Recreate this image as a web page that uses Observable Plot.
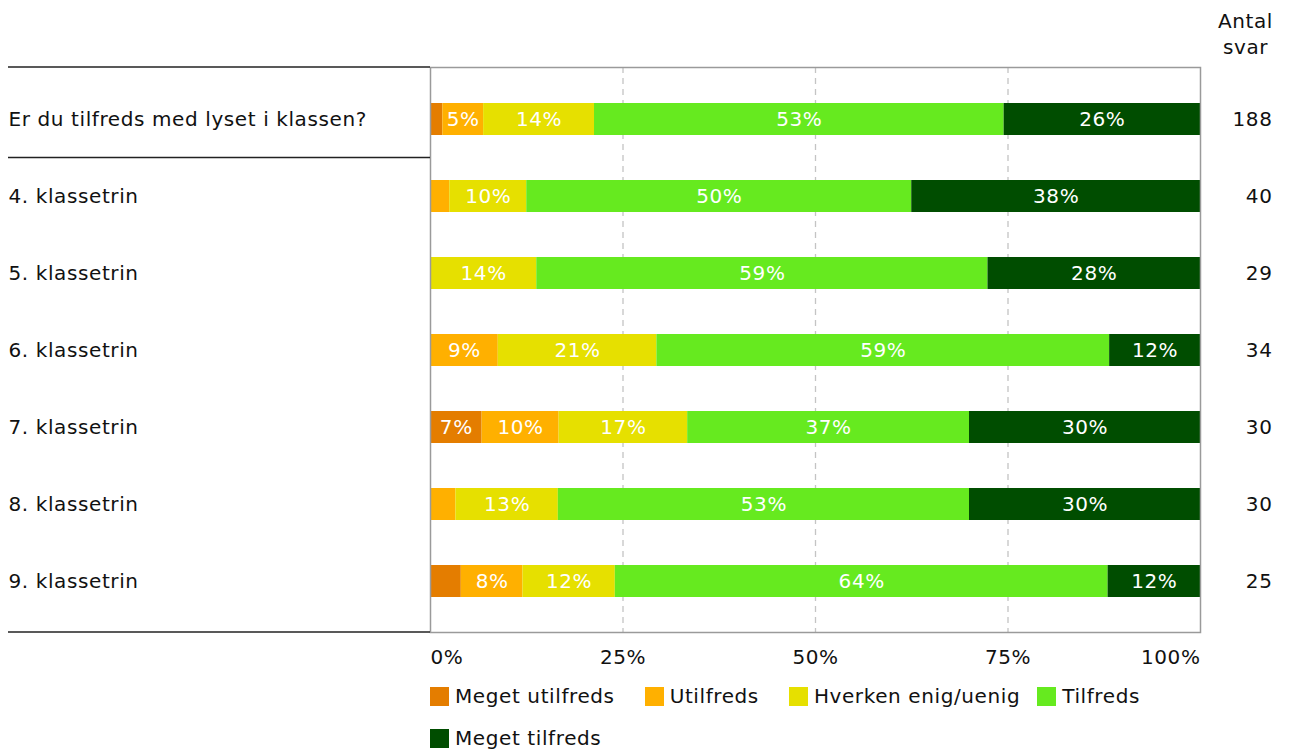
<!DOCTYPE html>
<html>
<head>
<meta charset="utf-8">
<script src="https://cdn.jsdelivr.net/npm/d3@7"></script>
<script src="https://cdn.jsdelivr.net/npm/@observablehq/plot@0.6"></script>
<style>
  html, body { margin: 0; padding: 0; background: #fff; }
  body { width: 1289px; height: 752px; overflow: hidden; font-family: "DejaVu Sans", Verdana, sans-serif; color: #111; }
  #wrap { position: relative; width: 1289px; }
  #chart svg text { letter-spacing: 0.6px; }
  #legend { position: absolute; left: 430px; top: 684px; width: 780px; display: flex; flex-wrap: wrap; column-gap: 30px; row-gap: 18px; font-size: 20px; letter-spacing: 0.6px; }
  #legend .item:nth-child(3) { margin-right: -13px; }
  .item { display: flex; align-items: center; height: 24px; }
  .sw { width: 19px; height: 19px; margin-right: 6px; }
</style>
</head>
<body>
<div id="wrap">
  <div id="chart"></div>
  <div id="legend"></div>
</div>
<script>
const categories = [
  "Er du tilfreds med lyset i klassen?",
  "4. klassetrin",
  "5. klassetrin",
  "6. klassetrin",
  "7. klassetrin",
  "8. klassetrin",
  "9. klassetrin"
];
const responses = ["Meget utilfreds", "Utilfreds", "Hverken enig/uenig", "Tilfreds", "Meget tilfreds"];
const colors = ["#E47D00", "#FFB000", "#E6E000", "#66EA1F", "#004D00"];

const megetUtilfreds = [1.6, 0, 0, 0, 6.7, 0, 4];
const utilfreds      = [5.3, 2.5, 0, 8.8, 10, 3.3, 8];
const hverken        = [14.4, 10, 13.8, 20.6, 16.7, 13.3, 12];
const tilfreds       = [53.2, 50, 58.6, 58.8, 36.6, 53.4, 64];
const megetTilfreds  = [25.5, 37.5, 27.6, 11.8, 30, 30, 12];
const antalSvar      = [188, 40, 29, 34, 30, 30, 25];
const xTicks = [0, 25, 50, 75, 100];
const tickLabels = ["0%", "25%", "50%", "75%", "100%"];
const antalHeader = ["Antal", "svar"];

const series = [megetUtilfreds, utilfreds, hverken, tilfreds, megetTilfreds];
const data = [];
categories.forEach((c, i) => {
  responses.forEach((r, j) => {
    data.push({cat: c, resp: r, value: series[j][i]});
  });
});
const counts = categories.map((c, i) => ({cat: c, n: antalSvar[i]}));
const ticks = xTicks.map((t, i) => ({t, label: tickLabels[i]}));

const W = 1289, H = 675;
const FS = 20;
const chart = Plot.plot({
  width: W,
  height: H,
  marginLeft: 430,
  marginRight: 89,
  marginTop: 67,
  marginBottom: 43,
  style: {fontFamily: "DejaVu Sans, Verdana, sans-serif", fontSize: FS + "px", color: "#111", background: "#fff"},
  x: {domain: [0, 100], axis: null},
  y: {domain: categories, axis: null, paddingInner: 0.5855, paddingOuter: 0.452},
  color: {domain: responses, range: colors},
  marks: [
    Plot.ruleX([25, 50, 75], {stroke: "#c4c4c4", strokeWidth: 1.3, strokeDasharray: "6,5"}),
    Plot.barX(data, Plot.stackX({x: "value", y: "cat", fill: "resp", order: responses})),
    Plot.text(data, Plot.stackX({
      x: "value", y: "cat", z: "resp", order: responses,
      text: d => d.value >= 5 ? Math.round(d.value) + "%" : "",
      fill: "white", fontSize: FS
    })),
    Plot.frame({stroke: "#9a9a9a", strokeWidth: 1.5}),
    Plot.text(categories, {y: d => d, frameAnchor: "left", textAnchor: "start", dx: -422, fill: "#111", fontSize: FS}),
    Plot.text(counts, {y: "cat", text: "n", frameAnchor: "right", textAnchor: "end", dx: 72, fill: "#111", fontSize: FS}),
    Plot.text(ticks.filter(d => d.t === 0), {x: "t", text: "label", frameAnchor: "bottom", dy: 31, textAnchor: "start", fill: "#111", fontSize: FS}),
    Plot.text(ticks.filter(d => d.t > 0 && d.t < 100), {x: "t", text: "label", frameAnchor: "bottom", dy: 31, fill: "#111", fontSize: FS}),
    Plot.text(ticks.filter(d => d.t === 100), {x: "t", text: "label", frameAnchor: "bottom", dy: 31, textAnchor: "end", fill: "#111", fontSize: FS}),
    Plot.text([antalHeader.join("\n")], {frameAnchor: "top-right", textAnchor: "middle", lineAnchor: "bottom", dx: 45, dy: -14, lineHeight: 1.3, fill: "#111", fontSize: FS})
  ]
});

const yS = chart.scale("y");
const bw = yS.bandwidth;
const svgSel = d3.select(chart);
const frameTop = 67, frameBottom = H - 43;
const firstCenter = yS.apply(categories[0]) + bw / 2;
const secondCenter = yS.apply(categories[1]) + bw / 2;
const sepYs = [frameTop, (firstCenter + secondCenter) / 2, frameBottom];
svgSel.append("g").selectAll("line").data(sepYs).join("line")
  .attr("x1", 8).attr("x2", 430)
  .attr("y1", d => d).attr("y2", d => d)
  .attr("stroke", "#222").attr("stroke-width", 1.3);

document.getElementById("chart").appendChild(chart);

const legend = d3.select("#legend");
responses.forEach((r, i) => {
  const it = legend.append("div").attr("class", "item");
  it.append("div").attr("class", "sw").style("background", colors[i]);
  it.append("span").text(r);
});
</script>
</body>
</html>
